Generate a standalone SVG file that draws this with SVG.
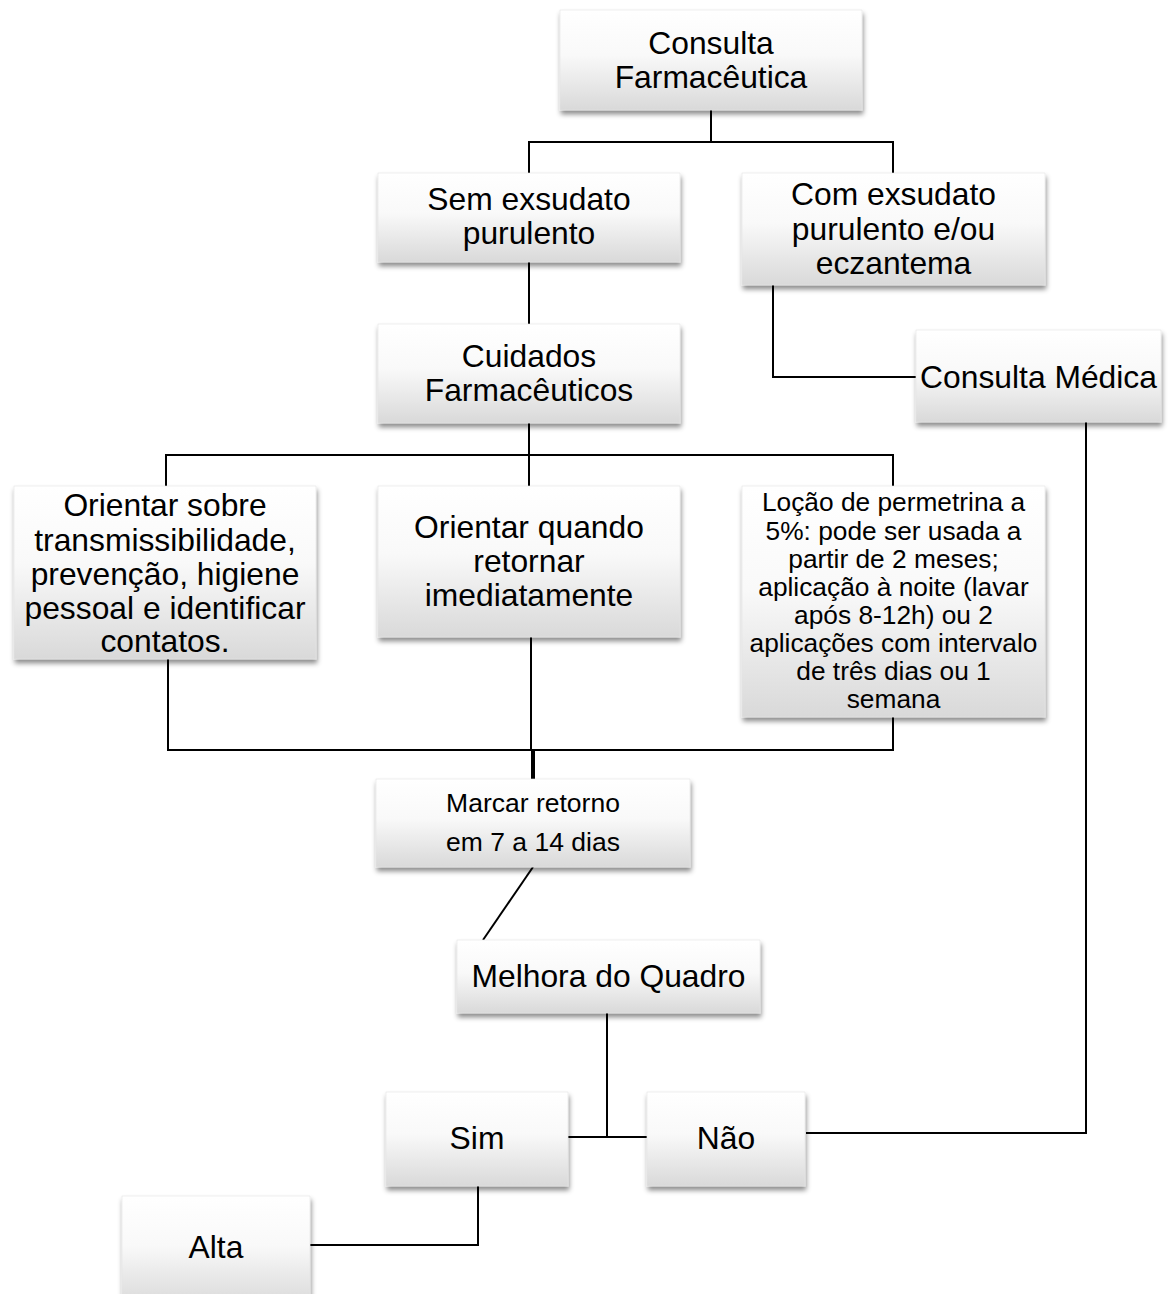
<svg xmlns="http://www.w3.org/2000/svg" width="1176" height="1294" viewBox="0 0 1176 1294">
<defs>
<linearGradient id="g" x1="0" y1="0" x2="0" y2="1">
<stop offset="0" stop-color="#ffffff"/>
<stop offset="0.45" stop-color="#f9f9f9"/>
<stop offset="1" stop-color="#d9d9d9"/>
</linearGradient>
<filter id="sh" x="-10%" y="-10%" width="120%" height="130%">
<feDropShadow dx="1" dy="4" stdDeviation="2.5" flood-color="#000" flood-opacity="0.45"/>
</filter>
</defs>
<style>
.box{fill:url(#g);stroke:#e4e4e4;stroke-width:0.6;filter:url(#sh);}
text{font-family:"Liberation Sans",Arial,sans-serif;fill:#000;text-anchor:middle;}
.t{font-size:31.8px;}
.s{font-size:26.3px;}
.m{font-size:26.5px;}
.c{fill:none;stroke:#000;stroke-width:2;}
</style>
<rect width="1176" height="1294" fill="#fff"/>
<g id="connectors">
<path class="c" d="M711,110 V142 M529,142 H893 M529,141 V173 M893,141 V173"/>
<path class="c" d="M529,262 V324"/>
<path class="c" d="M773,285 V377 H916"/>
<path class="c" d="M529,423 V455 M166,455 H893 M166,454 V486 M529,455 V486 M893,454 V486"/>
<path class="c" d="M168,659 V750 H893 V717"/>
<path class="c" d="M531,630 V750"/>
<path class="c" d="M533,750 V779" style="stroke-width:4"/>
<path class="c" d="M533,867 L483,940"/>
<path class="c" d="M607,1013 V1137 M566,1137 H647"/>
<path class="c" d="M806,1133 H1086 V422"/>
<path class="c" d="M478,1186 V1245 H310"/>
</g>
<g id="n1"><rect class="box" x="560" y="10" width="302" height="100"/>
<text class="t" x="711" y="54">Consulta</text><text class="t" x="711" y="88">Farmacêutica</text></g>
<g id="n2"><rect class="box" x="378" y="173" width="302" height="89"/>
<text class="t" x="529" y="210">Sem exsudato</text><text class="t" x="529" y="244">purulento</text></g>
<g id="n3"><rect class="box" x="742" y="173" width="303" height="112"/>
<text class="t" x="893.5" y="205">Com exsudato</text><text class="t" x="893.5" y="240">purulento e/ou</text><text class="t" x="893.5" y="274">eczantema</text></g>
<g id="n4"><rect class="box" x="378" y="324" width="302" height="99"/>
<text class="t" x="529" y="367">Cuidados</text><text class="t" x="529" y="401">Farmacêuticos</text></g>
<g id="n5"><rect class="box" x="916" y="330" width="245" height="92"/>
<text class="t" x="1038.5" y="388">Consulta Médica</text></g>
<g id="n6"><rect class="box" x="14" y="486" width="302" height="173"/>
<text class="t" x="165" y="516">Orientar sobre</text><text class="t" x="165" y="551">transmissibilidade,</text><text class="t" x="165" y="585">prevenção, higiene</text><text class="t" x="165" y="619">pessoal e identificar</text><text class="t" x="165" y="652">contatos.</text></g>
<g id="n7"><rect class="box" x="378" y="486" width="302" height="151"/>
<text class="t" x="529" y="538">Orientar quando</text><text class="t" x="529" y="572">retornar</text><text class="t" x="529" y="606">imediatamente</text></g>
<g id="n8"><rect class="box" x="742" y="486" width="303" height="231"/>
<text class="s" x="893.5" y="511">Loção de permetrina a</text>
<text class="s" x="893.5" y="540">5%: pode ser usada a</text>
<text class="s" x="893.5" y="568">partir de 2 meses;</text>
<text class="s" x="893.5" y="596">aplicação à noite (lavar</text>
<text class="s" x="893.5" y="624">após 8-12h) ou 2</text>
<text class="s" x="893.5" y="652">aplicações com intervalo</text>
<text class="s" x="893.5" y="680">de três dias ou 1</text>
<text class="s" x="893.5" y="708">semana</text></g>
<g id="n9"><rect class="box" x="376" y="779" width="314" height="88"/>
<text class="m" x="533" y="812">Marcar retorno</text><text class="m" x="533" y="851">em 7 a 14 dias</text></g>
<g id="n10"><rect class="box" x="457" y="940" width="303" height="73"/>
<text class="t" x="608.5" y="987">Melhora do Quadro</text></g>
<g id="n11"><rect class="box" x="386" y="1092" width="182" height="94"/>
<text class="t" x="477" y="1149">Sim</text></g>
<g id="n12"><rect class="box" x="647" y="1092" width="158" height="94"/>
<text class="t" x="726" y="1149">Não</text></g>
<g id="n13"><rect class="box" x="122" y="1196" width="188" height="110"/>
<text class="t" x="216" y="1258">Alta</text></g>
</svg>
